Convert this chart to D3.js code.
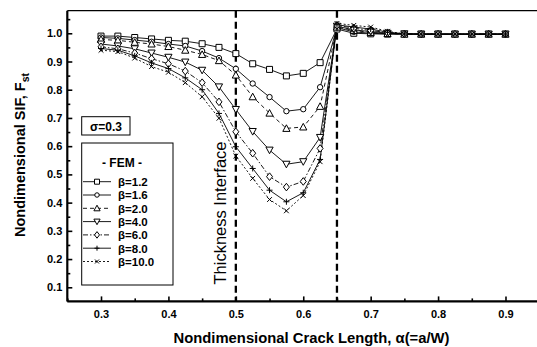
<!DOCTYPE html>
<html><head><meta charset="utf-8">
<script src="https://cdn.jsdelivr.net/npm/d3@7"></script>
<style>body{margin:0;background:#fff} svg{display:block}</style>
</head><body><svg id="c" width="537" height="347"></svg>
<script>
// ---- data ----
const alphas = [0.3,0.325,0.35,0.375,0.4,0.425,0.45,0.475,0.5,0.525,0.55,0.575,0.6,0.625,0.65,0.675,0.7,0.725,0.75,0.775,0.8,0.825,0.85,0.875,0.9];
const beta12 = [0.990,0.990,0.985,0.980,0.975,0.972,0.963,0.950,0.928,0.892,0.872,0.849,0.858,0.896,1.015,1.000,0.998,0.997,0.997,0.997,0.997,0.997,0.997,0.997,0.997];
const beta16 = [0.985,0.982,0.976,0.970,0.962,0.955,0.937,0.912,0.874,0.822,0.774,0.724,0.731,0.809,1.020,1.005,1.000,0.998,0.997,0.997,0.997,0.997,0.997,0.997,0.997];
const beta20 = [0.978,0.975,0.968,0.962,0.953,0.940,0.925,0.903,0.852,0.775,0.717,0.663,0.668,0.741,1.022,1.010,1.003,0.999,0.997,0.997,0.997,0.997,0.997,0.997,0.997];
const beta40 = [0.962,0.955,0.945,0.930,0.915,0.898,0.869,0.810,0.730,0.652,0.586,0.536,0.545,0.631,1.025,1.012,1.006,1.000,0.998,0.997,0.997,0.997,0.997,0.997,0.997];
const beta60 = [0.952,0.945,0.930,0.910,0.892,0.866,0.825,0.757,0.651,0.575,0.492,0.455,0.475,0.592,1.028,1.018,1.010,1.002,0.998,0.997,0.997,0.997,0.997,0.997,0.997];
const beta80 = [0.946,0.940,0.920,0.895,0.875,0.842,0.800,0.716,0.598,0.521,0.444,0.403,0.435,0.553,1.030,1.022,1.015,1.004,0.998,0.997,0.997,0.997,0.997,0.997,0.997];
const beta100 = [0.940,0.935,0.912,0.882,0.862,0.825,0.775,0.699,0.565,0.486,0.411,0.371,0.425,0.545,1.035,1.028,1.022,1.007,0.998,0.997,0.997,0.997,0.997,0.997,0.997];
const seriesNames = ["β=1.2","β=1.6","β=2.0","β=4.0","β=6.0","β=8.0","β=10.0"];
const seriesValues = [beta12,beta16,beta20,beta40,beta60,beta80,beta100];
const xTicks = [0.3,0.4,0.5,0.6,0.7,0.8,0.9];
const xMinor = [0.25,0.35,0.45,0.55,0.65,0.75,0.85];
const yTicks = [0.1,0.2,0.3,0.4,0.5,0.6,0.7,0.8,0.9,1.0];
const yMinor = [0.15,0.25,0.35,0.45,0.55,0.65,0.75,0.85,0.95,1.05];
const interfaces = [0.5,0.65];

// ---- styles ----
const markers = ["square","circle","triangle","itriangle","diamond","plus","cross"];
const dashes = [null,null,"4,3",null,"5,2,1.5,2",null,"2,2"];
const FONT = "'Liberation Sans', Arial, sans-serif";

const svg = d3.select("#c");
const x = d3.scaleLinear().domain([0.25,0.95]).range([67.3,539.2]);
const y = d3.scaleLinear().domain([0.05,1.08]).range([301.4,10.7]);

function markerPath(type, s){
  const h = s/2;
  switch(type){
    case "square": return `M${-h},${-h}H${h}V${h}H${-h}Z`;
    case "circle": return d3.symbol(d3.symbolCircle, Math.PI*h*h*0.8)();
    case "triangle": return `M0,${-h-0.6}L${h+0.6},${h}L${-h-0.6},${h}Z`;
    case "itriangle": return `M0,${h+0.6}L${h+0.6},${-h}L${-h-0.6},${-h}Z`;
    case "diamond": return `M0,${-h-0.8}L${h},0L0,${h+0.8}L${-h},0Z`;
    case "plus": return `M0,${-h}V${h}M${-h},0H${h}`;
    case "cross": return `M${-h*0.8},${-h*0.8}L${h*0.8},${h*0.8}M${h*0.8},${-h*0.8}L${-h*0.8},${h*0.8}`;
  }
}

// frame
svg.append("line").attr("x1",x(0.25)).attr("x2",537).attr("y1",y(1.08)).attr("y2",y(1.08))
  .attr("stroke","#000").attr("stroke-width",1.2);

// axes
const gx = svg.append("g").attr("transform",`translate(0,${y(0.05)})`)
  .call(d3.axisBottom(x).tickValues(xTicks).tickSize(-5).tickPadding(9).tickFormat(d3.format(".1f")));
svg.append("g").attr("transform",`translate(0,${y(0.05)})`)
  .call(d3.axisBottom(x).tickValues(xMinor).tickSize(-3).tickFormat(""))
  .call(g=>g.select(".domain").remove());
const gy = svg.append("g").attr("transform",`translate(${x(0.25)},0)`)
  .call(d3.axisLeft(y).tickValues(yTicks).tickSize(-5).tickPadding(5).tickFormat(d3.format(".1f")));
svg.append("g").attr("transform",`translate(${x(0.25)},0)`)
  .call(d3.axisLeft(y).tickValues(yMinor).tickSize(-3).tickFormat(""))
  .call(g=>g.select(".domain").remove());
svg.selectAll(".tick line").attr("stroke-width",1.6);
svg.selectAll(".domain").attr("stroke-width",2.2);
gx.select(".domain").attr("d",`M${x(0.25)},0H537`);
gy.select(".domain").attr("d",`M0,${y(0.05)}V${y(1.08)}`);
svg.selectAll(".tick text").attr("font-family",FONT).attr("font-weight","bold").attr("font-size",11).attr("fill","#000");

// interface lines
svg.selectAll(".iface").data(interfaces).join("line")
  .attr("x1",d=>x(d)).attr("x2",d=>x(d)).attr("y1",y(1.08)).attr("y2",y(0.05))
  .attr("stroke","#000").attr("stroke-width",2.3).attr("stroke-dasharray","7,4");

// series lines
const line = d3.line().x((d,i)=>x(alphas[i])).y(d=>y(d));
seriesValues.forEach((vals,k)=>{
  svg.append("path").attr("d",line(vals)).attr("fill","none").attr("stroke","#000")
    .attr("stroke-width",0.9).attr("stroke-dasharray",dashes[k]);
});
seriesValues.forEach((vals,k)=>{
  svg.append("g").selectAll("path").data(vals).join("path")
    .attr("transform",(d,i)=>`translate(${x(alphas[i])},${y(d)})`)
    .attr("d",markerPath(markers[k],6))
    .attr("fill",(markers[k]==="plus"||markers[k]==="cross")?"none":"#fff")
    .attr("stroke","#000").attr("stroke-width",1);
});

// labels
svg.append("text").attr("transform","translate(226,213) rotate(-90)")
  .attr("text-anchor","middle").attr("font-family",FONT).attr("font-size",16.5)
  .attr("fill","#000").text("Thickness Interface");

const yl = svg.append("text").attr("transform","translate(25,155) rotate(-90)")
  .attr("text-anchor","middle").attr("font-family",FONT).attr("font-weight","bold").attr("font-size",14.5).attr("fill","#000");
yl.append("tspan").text("Nondimensional SIF, F");
yl.append("tspan").attr("font-size",10.5).attr("dy",4).text("st");

svg.append("text").attr("x",311.5).attr("y",343).attr("text-anchor","middle")
  .attr("font-family",FONT).attr("font-weight","bold").attr("font-size",14.8).attr("fill","#000")
  .text("Nondimensional Crack Length, α(=a/W)");

// sigma box
svg.append("rect").attr("x",81.7).attr("y",116.7).attr("width",48.3).attr("height",18.3)
  .attr("fill","#fff").attr("stroke","#000").attr("stroke-width",1);
svg.append("text").attr("x",106).attr("y",130.5).attr("text-anchor","middle")
  .attr("font-family",FONT).attr("font-weight","bold").attr("font-size",12).text("σ=0.3");

// legend
const lg = svg.append("g");
lg.append("rect").attr("x",81.7).attr("y",143).attr("width",91.3).attr("height",142)
  .attr("fill","#fff").attr("stroke","#000").attr("stroke-width",1);
lg.append("text").attr("x",122).attr("y",167).attr("text-anchor","middle")
  .attr("font-family",FONT).attr("font-weight","bold").attr("font-size",12).text("- FEM -");
seriesNames.forEach((n,k)=>{
  const yy = 181.7 + k*13.3;
  lg.append("line").attr("x1",83).attr("x2",111).attr("y1",yy).attr("y2",yy)
    .attr("stroke","#000").attr("stroke-width",0.9).attr("stroke-dasharray",dashes[k]);
  lg.append("path").attr("transform",`translate(97,${yy})`).attr("d",markerPath(markers[k],5))
    .attr("fill",(markers[k]==="plus"||markers[k]==="cross")?"none":"#fff").attr("stroke","#000");
  lg.append("text").attr("x",118).attr("y",yy+4.3).attr("font-family",FONT).attr("font-weight","bold")
    .attr("font-size",11.5).text(n);
});
</script></body></html>
